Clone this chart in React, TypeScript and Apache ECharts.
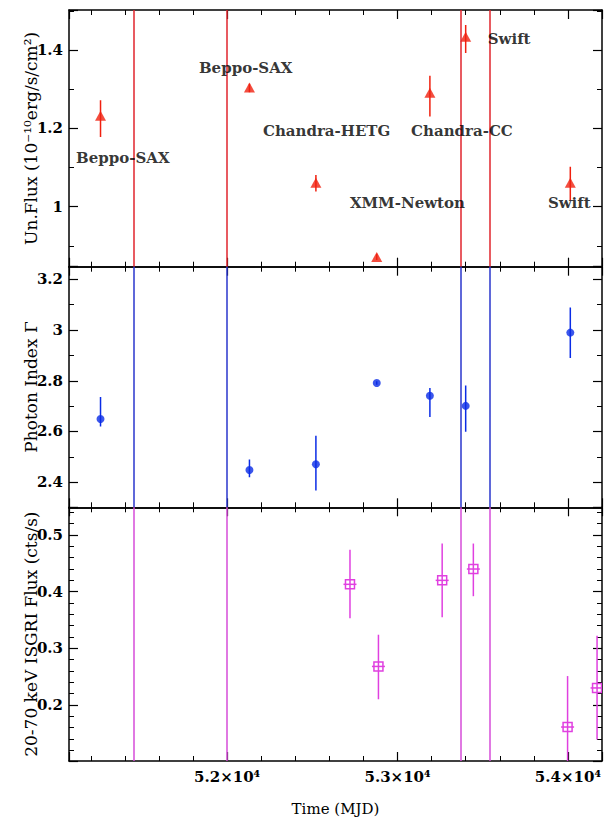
import React, { useEffect, useRef } from 'react';
import * as echarts from 'echarts';

// Time axis extent (MJD)
const X_MIN = 51072;
const X_MAX = 54200;

// Observation epochs marked by vertical lines (MJD)
const obsLines = [51452, 52000, 53373, 53544];

// Top panel: unabsorbed flux (1e-10 erg/s/cm2)
const fluxMJD = [51257, 52131, 52521, 52878, 53190, 53400, 54014];
const fluxVal = [1.232, 1.304, 1.061, 0.872, 1.291, 1.434, 1.061];
const fluxLo = [1.178, 1.292, 1.039, 0.864, 1.230, 1.392, 1.017];
const fluxHi = [1.272, 1.314, 1.081, 0.880, 1.334, 1.464, 1.102];

// Instrument labels in top panel
const annoText = ['Beppo-SAX', 'Beppo-SAX', 'Chandra-HETG', 'Chandra-CC', 'Swift', 'XMM-Newton', 'Swift'];
const annoMJD = [51388, 52109, 52584, 53378, 53655, 53058, 54008];
const annoY = [1.124, 1.354, 1.193, 1.193, 1.428, 1.009, 1.009];

// Middle panel: photon index
const idxMJD = [51257, 52131, 52521, 52878, 53190, 53400, 54014];
const idxVal = [2.649, 2.448, 2.471, 2.791, 2.741, 2.701, 2.99];
const idxLo = [2.62, 2.42, 2.367, 2.784, 2.657, 2.599, 2.89];
const idxHi = [2.736, 2.49, 2.583, 2.798, 2.772, 2.781, 3.089];

// Bottom panel: 20-70 keV ISGRI flux (cts/s)
const isgMJD = [52721, 52888, 53262, 53445, 53998, 54171];
const isgVal = [0.413, 0.268, 0.42, 0.44, 0.161, 0.23];
const isgLo = [0.353, 0.21, 0.355, 0.392, 0.1, 0.139];
const isgHi = [0.474, 0.324, 0.485, 0.485, 0.251, 0.322];

const FONT = 'DejaVu Serif';
const RED = '#f0200f';
const RED_LINE = '#e0242c';
const BLUE = '#0a2ce6';
const BLUE_LINE = '#2a36cc';
const MAG = '#e040e0';
const MAG_LINE = '#d64cd8';

const fmt1 = (v: number) => String(Math.round(v * 10) / 10);

function xAxis(gridIndex: number, position: 'top' | 'bottom', showLabel: boolean, name?: string) {
  return {
    type: 'value',
    gridIndex,
    position,
    min: X_MIN,
    max: X_MAX,
    splitNumber: 3,
    minInterval: 1000,
    maxInterval: 1000,
    name: name || '',
    nameLocation: 'middle',
    nameGap: 40,
    nameMoveOverlap: false,
    nameTextStyle: { fontFamily: FONT, fontSize: 15, color: '#000' },
    axisLine: { show: true, onZero: false, lineStyle: { color: '#000', width: 1.5 } },
    axisTick: { show: true, inside: true, length: 9, lineStyle: { color: '#000', width: 1.2 } },
    minorTick: { show: true, splitNumber: 5, length: 5, lineStyle: { color: '#000', width: 1 } },
    splitLine: { show: false },
    minorSplitLine: { show: false },
    axisLabel: {
      show: showLabel,
      showMinLabel: false,
      showMaxLabel: false,
      margin: 8,
      fontFamily: FONT,
      fontSize: 15,
      fontWeight: 'bold',
      color: '#000',
      formatter: (v: number) => (v / 10000).toFixed(1) + '×10⁴',
    },
  };
}

function yAxis(gridIndex: number, position: 'left' | 'right', min: number, max: number, interval: number, minorSplit: number, name?: string) {
  const left = position === 'left';
  return {
    type: 'value',
    gridIndex,
    position,
    min,
    max,
    splitNumber: 3,
    minInterval: interval,
    maxInterval: interval,
    name: left ? name : '',
    nameLocation: 'middle',
    nameRotate: 90,
    nameGap: 30,
    nameMoveOverlap: false,
    nameTextStyle: { fontFamily: FONT, fontSize: 17, color: '#000' },
    axisLine: { show: true, onZero: false, lineStyle: { color: '#000', width: 1.5 } },
    axisTick: { show: true, inside: true, length: 9, lineStyle: { color: '#000', width: 1.2 } },
    minorTick: { show: true, splitNumber: minorSplit, length: 5, lineStyle: { color: '#000', width: 1 } },
    splitLine: { show: false },
    minorSplitLine: { show: false },
    axisLabel: {
      show: left,
      showMinLabel: false,
      showMaxLabel: false,
      margin: 6,
      fontFamily: FONT,
      fontSize: 15,
      fontWeight: 'bold',
      color: '#000',
      formatter: fmt1,
    },
  };
}

function errorBars(xi: number, xs: number[], lo: number[], hi: number[], color: string) {
  return {
    type: 'custom',
    xAxisIndex: xi,
    yAxisIndex: xi,
    clip: true,
    data: xs.map((x, i) => [x, lo[i], hi[i]]),
    renderItem: (_p: any, api: any) => {
      const a = api.coord([api.value(0), api.value(1)]);
      const b = api.coord([api.value(0), api.value(2)]);
      return {
        type: 'line',
        shape: { x1: a[0], y1: a[1], x2: b[0], y2: b[1] },
        style: { stroke: color, lineWidth: 1.5 },
      };
    },
    z: 3,
  };
}

function obsMarkLine(color: string) {
  return {
    silent: true,
    symbol: ['none', 'none'],
    label: { show: false },
    lineStyle: { color, width: 1.5, type: 'solid' },
    data: obsLines.map((v) => ({ xAxis: v })),
  };
}

export default function App() {
  const ref = useRef<HTMLDivElement>(null);

  useEffect(() => {
    if (!ref.current) return;
    const chart = echarts.init(ref.current, undefined, { renderer: 'svg' });

    const grids = [
      { left: 69, right: 2, top: 10, height: 256.7 },
      { left: 69, right: 2, top: 266.7, height: 240.6 },
      { left: 69, right: 2, top: 507.3, height: 253.7 },
    ];

    const option: any = {
      animation: false,
      backgroundColor: '#fff',
      grid: grids,
      xAxis: [
        xAxis(0, 'bottom', false),
        xAxis(1, 'bottom', false),
        xAxis(2, 'bottom', true, 'Time (MJD)'),
        xAxis(0, 'top', false),
        xAxis(1, 'top', false),
        xAxis(2, 'top', false),
      ],
      yAxis: [
        yAxis(0, 'left', 0.847, 1.502, 0.2, 2, 'Un.Flux (10⁻¹⁰erg/s/cm²)'),
        yAxis(1, 'left', 2.301, 3.25, 0.2, 2, 'Photon Index Γ'),
        yAxis(2, 'left', 0.101, 0.549, 0.1, 5, '20-70 keV ISGRI Flux (cts/s)'),
        yAxis(0, 'right', 0.847, 1.502, 0.2, 2),
        yAxis(1, 'right', 2.301, 3.25, 0.2, 2),
        yAxis(2, 'right', 0.101, 0.549, 0.1, 5),
      ],
      series: [
        // Top panel
        errorBars(0, fluxMJD, fluxLo, fluxHi, RED),
        {
          type: 'scatter',
          xAxisIndex: 0,
          yAxisIndex: 0,
          symbol: 'triangle',
          symbolSize: [11, 10],
          itemStyle: { color: RED },
          data: fluxMJD.map((x, i) => [x, fluxVal[i]]),
          markLine: obsMarkLine(RED_LINE),
          z: 4,
        },
        {
          type: 'scatter',
          xAxisIndex: 0,
          yAxisIndex: 0,
          symbolSize: 0,
          itemStyle: { color: 'transparent' },
          silent: true,
          label: {
            show: true,
            position: 'inside',
            formatter: (p: any) => p.data[2],
            fontFamily: FONT,
            fontSize: 15,
            fontWeight: 'bold',
            color: '#000',
          },
          data: annoMJD.map((x, i) => [x, annoY[i], annoText[i]]),
          z: 5,
        },
        // Middle panel
        errorBars(1, idxMJD, idxLo, idxHi, BLUE),
        {
          type: 'scatter',
          xAxisIndex: 1,
          yAxisIndex: 1,
          symbol: 'circle',
          symbolSize: 8,
          itemStyle: { color: BLUE },
          data: idxMJD.map((x, i) => [x, idxVal[i]]),
          markLine: obsMarkLine(BLUE_LINE),
          z: 4,
        },
        // Bottom panel
        {
          type: 'custom',
          xAxisIndex: 2,
          yAxisIndex: 2,
          clip: true,
          data: isgMJD.map((x, i) => [x, isgVal[i], isgLo[i], isgHi[i]]),
          renderItem: (_p: any, api: any) => {
            const c = api.coord([api.value(0), api.value(1)]);
            const a = api.coord([api.value(0), api.value(2)]);
            const b = api.coord([api.value(0), api.value(3)]);
            const s = 9;
            return {
              type: 'group',
              children: [
                { type: 'line', shape: { x1: a[0], y1: a[1], x2: b[0], y2: b[1] }, style: { stroke: MAG, lineWidth: 1.5 } },
                { type: 'line', shape: { x1: c[0] - 6.5, y1: c[1], x2: c[0] + 6.5, y2: c[1] }, style: { stroke: MAG, lineWidth: 1.5 } },
                { type: 'rect', shape: { x: c[0] - s / 2, y: c[1] - s / 2, width: s, height: s }, style: { stroke: MAG, fill: 'none', lineWidth: 1.5 } },
              ],
            };
          },
          z: 4,
        },
        {
          type: 'scatter',
          xAxisIndex: 2,
          yAxisIndex: 2,
          symbolSize: 0,
          itemStyle: { color: 'transparent' },
          silent: true,
          data: [],
          markLine: obsMarkLine(MAG_LINE),
        },
      ],
    };

    chart.setOption(option);
    return () => chart.dispose();
  }, []);

  return <div ref={ref} style={{ position: 'fixed', left: 0, top: 0, width: 604, height: 825, background: '#fff' }} />;
}
